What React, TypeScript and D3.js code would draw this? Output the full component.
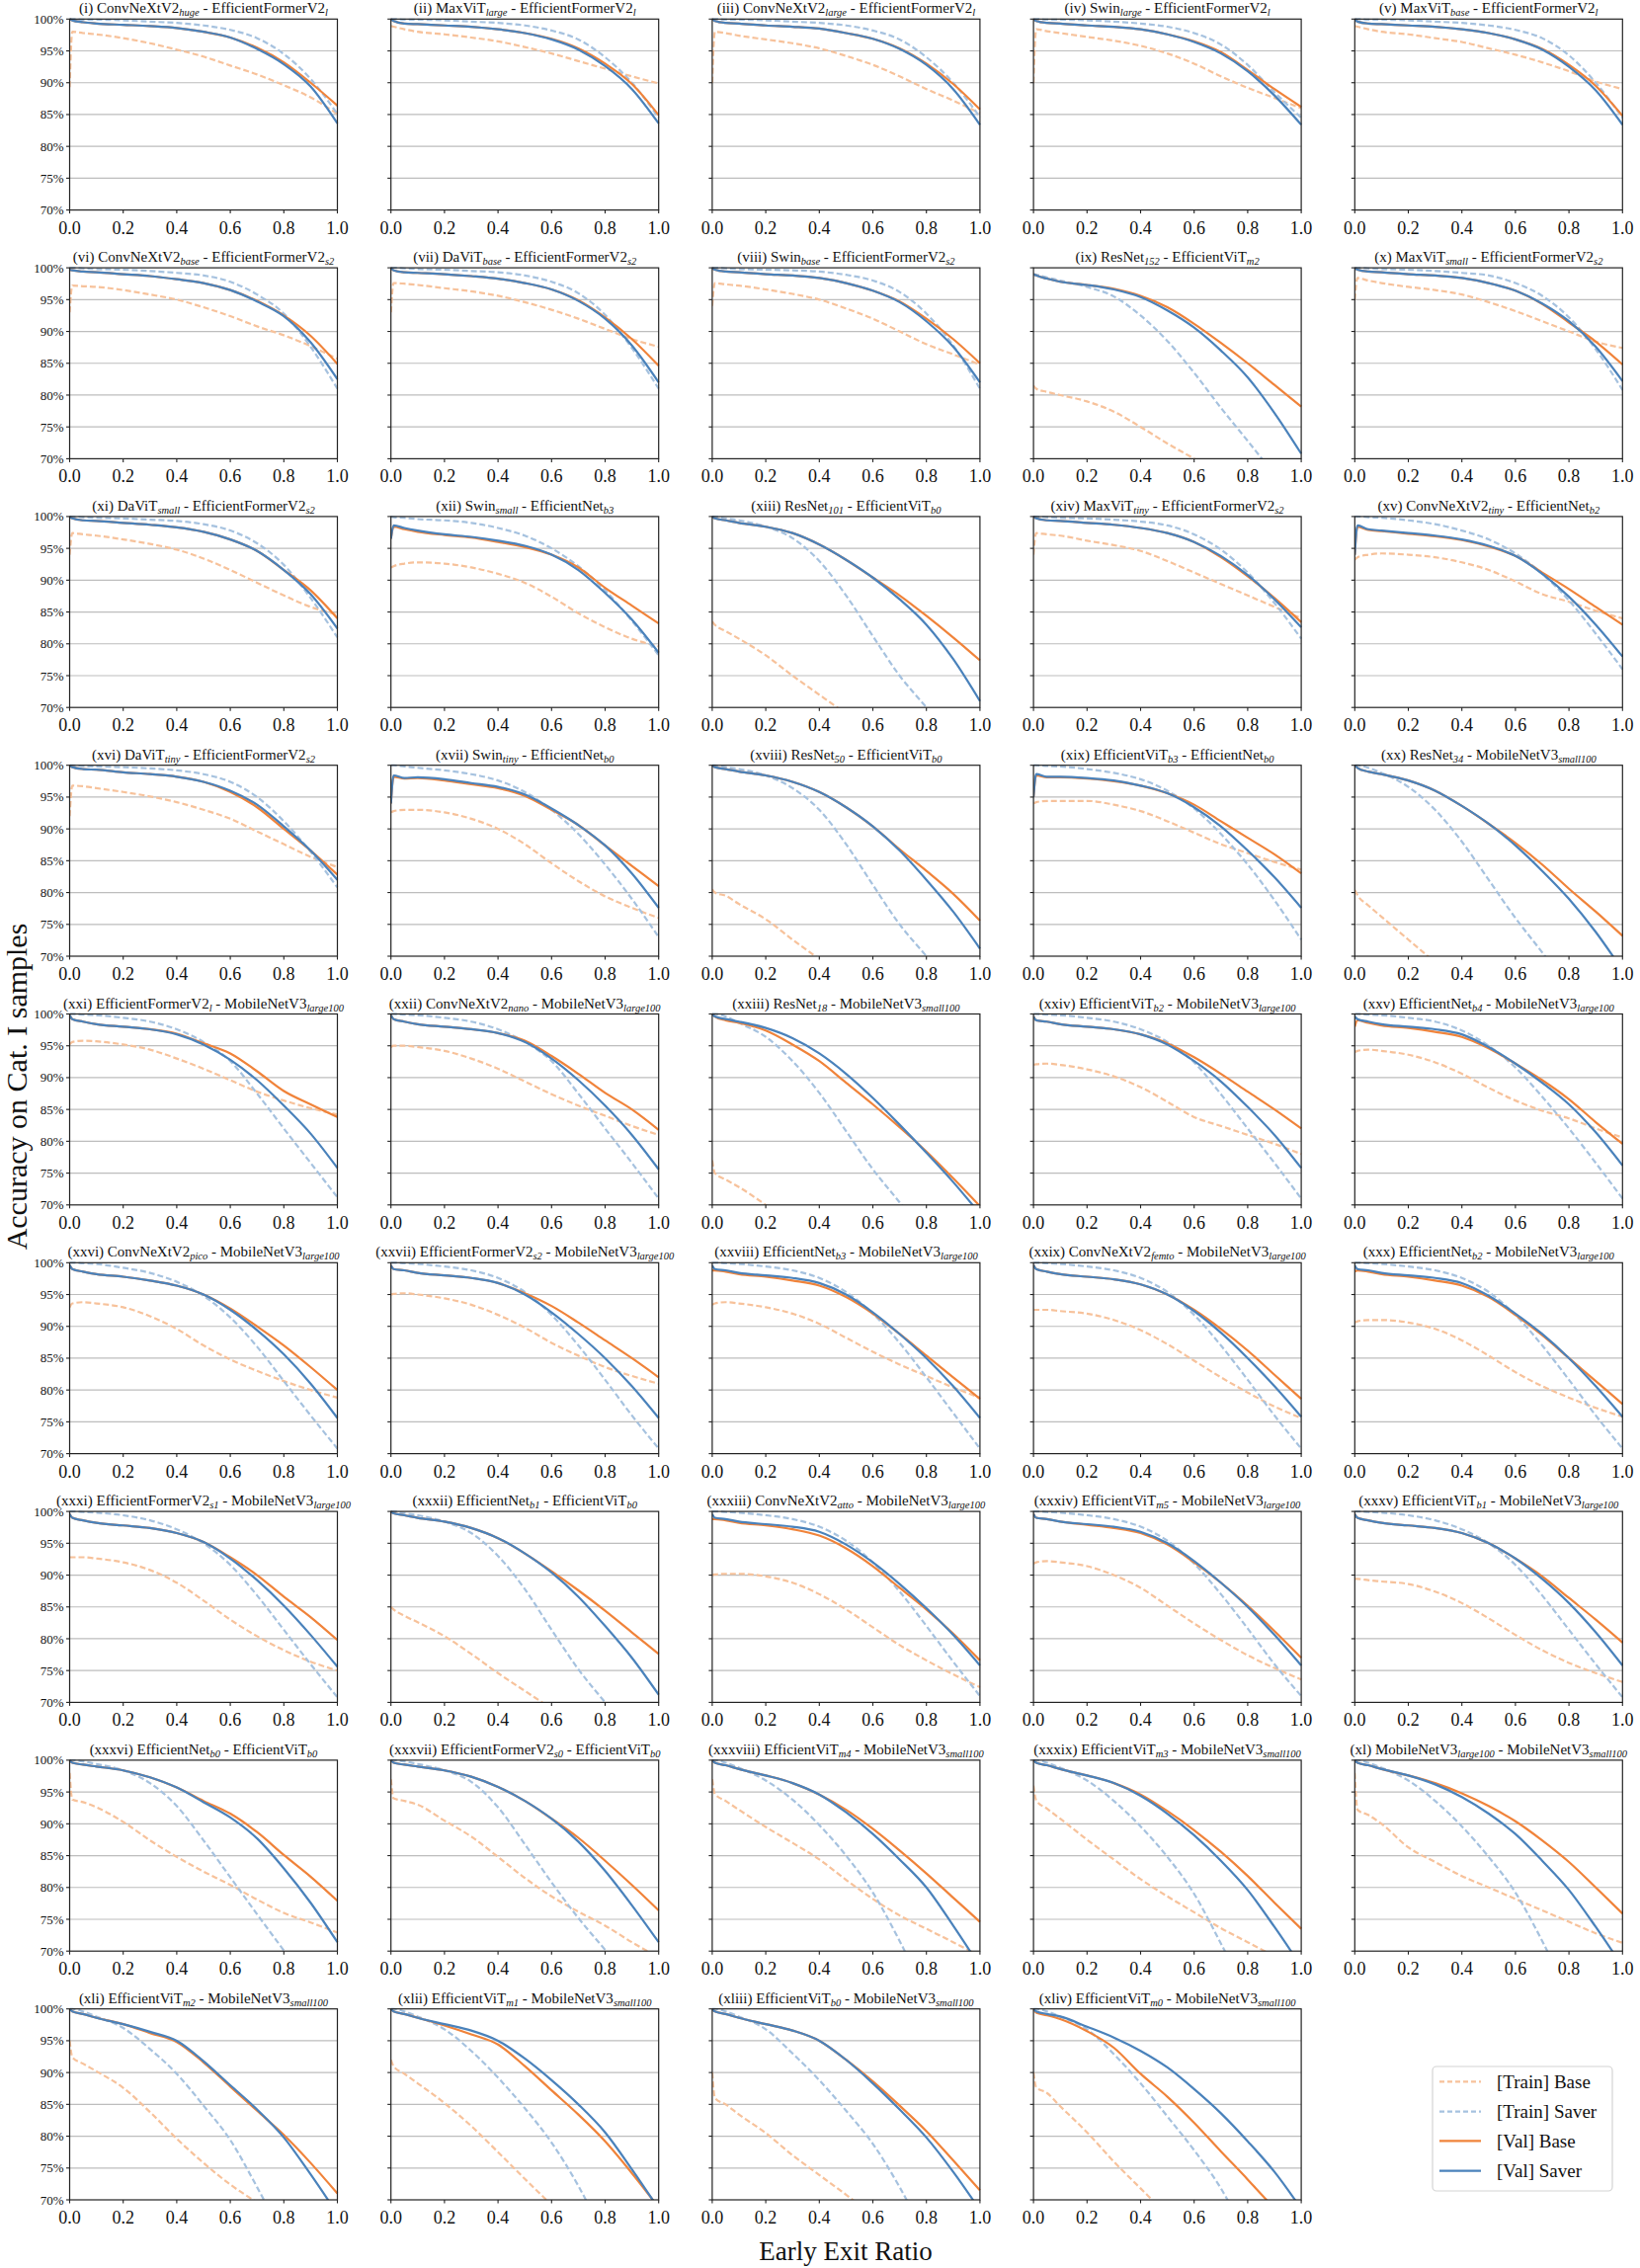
import React from 'react';
import * as d3 from 'd3';

// x positions (early exit ratio) at which values were read
const X_POINTS = [0, 0.01, 0.05, 0.1, 0.2, 0.3, 0.4, 0.5, 0.6, 0.7, 0.8, 0.9, 1.0];
const Y_TICKS = [70, 75, 80, 85, 90, 95, 100];
const X_TICKS = [0, 0.2, 0.4, 0.6, 0.8, 1.0];

const numerals = ['i','ii','iii','iv','v','vi','vii','viii','ix','x','xi','xii','xiii','xiv','xv','xvi','xvii','xviii','xix','xx','xxi','xxii','xxiii','xxiv','xxv','xxvi','xxvii','xxviii','xxix','xxx','xxxi','xxxii','xxxiii','xxxiv','xxxv','xxxvi','xxxvii','xxxviii','xxxix','xl','xli','xlii','xliii','xliv'];

const modelA: [string, string][] = [
  ['ConvNeXtV2','huge'],['MaxViT','large'],['ConvNeXtV2','large'],['Swin','large'],['MaxViT','base'],
  ['ConvNeXtV2','base'],['DaViT','base'],['Swin','base'],['ResNet','152'],['MaxViT','small'],
  ['DaViT','small'],['Swin','small'],['ResNet','101'],['MaxViT','tiny'],['ConvNeXtV2','tiny'],
  ['DaViT','tiny'],['Swin','tiny'],['ResNet','50'],['EfficientViT','b3'],['ResNet','34'],
  ['EfficientFormerV2','l'],['ConvNeXtV2','nano'],['ResNet','18'],['EfficientViT','b2'],['EfficientNet','b4'],
  ['ConvNeXtV2','pico'],['EfficientFormerV2','s2'],['EfficientNet','b3'],['ConvNeXtV2','femto'],['EfficientNet','b2'],
  ['EfficientFormerV2','s1'],['EfficientNet','b1'],['ConvNeXtV2','atto'],['EfficientViT','m5'],['EfficientViT','b1'],
  ['EfficientNet','b0'],['EfficientFormerV2','s0'],['EfficientViT','m4'],['EfficientViT','m3'],['MobileNetV3','large100'],
  ['EfficientViT','m2'],['EfficientViT','m1'],['EfficientViT','b0'],['EfficientViT','m0'],
];

const modelB: [string, string][] = [
  ['EfficientFormerV2','l'],['EfficientFormerV2','l'],['EfficientFormerV2','l'],['EfficientFormerV2','l'],['EfficientFormerV2','l'],
  ['EfficientFormerV2','s2'],['EfficientFormerV2','s2'],['EfficientFormerV2','s2'],['EfficientViT','m2'],['EfficientFormerV2','s2'],
  ['EfficientFormerV2','s2'],['EfficientNet','b3'],['EfficientViT','b0'],['EfficientFormerV2','s2'],['EfficientNet','b2'],
  ['EfficientFormerV2','s2'],['EfficientNet','b0'],['EfficientViT','b0'],['EfficientNet','b0'],['MobileNetV3','small100'],
  ['MobileNetV3','large100'],['MobileNetV3','large100'],['MobileNetV3','small100'],['MobileNetV3','large100'],['MobileNetV3','large100'],
  ['MobileNetV3','large100'],['MobileNetV3','large100'],['MobileNetV3','large100'],['MobileNetV3','large100'],['MobileNetV3','large100'],
  ['MobileNetV3','large100'],['EfficientViT','b0'],['MobileNetV3','large100'],['MobileNetV3','large100'],['MobileNetV3','large100'],
  ['EfficientViT','b0'],['EfficientViT','b0'],['MobileNetV3','small100'],['MobileNetV3','small100'],['MobileNetV3','small100'],
  ['MobileNetV3','small100'],['MobileNetV3','small100'],['MobileNetV3','small100'],['MobileNetV3','small100'],
];

// [Train] Base
const trainBase: number[][] = [
  [89.3, 98.0, 97.8, 97.6, 97.0, 96.2, 95.2, 94.1, 92.7, 91.3, 89.6, 87.7, 85.1],
  [98.9, 98.8, 98.4, 98.0, 97.6, 97.1, 96.5, 95.6, 94.6, 93.4, 92.2, 91.0, 89.9],
  [90.0, 98.0, 97.8, 97.4, 96.8, 96.2, 95.4, 94.2, 92.8, 91.0, 89.0, 87.2, 85.2],
  [90.0, 98.4, 98.1, 97.8, 97.2, 96.6, 95.8, 94.6, 93.0, 91.0, 89.2, 87.6, 86.0],
  [98.9, 98.8, 98.4, 98.0, 97.6, 97.0, 96.4, 95.4, 94.4, 93.2, 91.8, 90.2, 89.0],
  [93.0, 97.2, 97.1, 97.0, 96.5, 95.8, 95.0, 93.8, 92.4, 90.8, 89.4, 87.7, 85.7],
  [93.0, 97.6, 97.5, 97.3, 96.8, 96.3, 95.6, 94.6, 93.4, 92.0, 90.4, 88.8, 87.6],
  [94.0, 97.6, 97.4, 97.2, 96.6, 95.9, 95.0, 93.6, 92.0, 90.0, 88.0, 86.4, 84.8],
  [81.5, 81.0, 80.5, 80.0, 79.0, 77.4, 75.0, 72.4, 70.0, 67.5, 65.0, 62.0, 60.0],
  [95.0, 98.4, 98.0, 97.6, 97.0, 96.5, 95.8, 94.6, 93.2, 91.6, 90.0, 88.4, 87.4],
  [94.0, 97.4, 97.2, 97.0, 96.4, 95.7, 94.8, 93.4, 91.6, 89.6, 87.6, 85.8, 84.6],
  [92.0, 92.2, 92.6, 92.8, 92.6, 92.0, 91.0, 89.6, 87.4, 84.8, 82.6, 80.8, 79.6],
  [83.5, 83.0, 82.0, 80.8, 78.2, 75.0, 72.0, 69.0, 66.0, 63.0, 60.0, 57.0, 54.0],
  [94.0, 97.4, 97.2, 97.0, 96.2, 95.5, 94.6, 93.0, 91.2, 89.4, 87.6, 85.8, 84.0],
  [93.2, 93.6, 94.0, 94.2, 94.0, 93.6, 92.8, 91.6, 89.8, 87.8, 86.6, 85.2, 84.0],
  [92.0, 96.8, 96.7, 96.4, 95.8, 95.1, 94.2, 93.0, 91.6, 89.6, 87.6, 85.6, 84.0],
  [92.6, 92.8, 93.0, 93.0, 92.6, 91.6, 90.0, 87.6, 84.6, 81.8, 79.4, 77.6, 76.0],
  [80.5, 80.0, 79.5, 78.2, 75.8, 72.6, 69.5, 66.0, 63.0, 60.0, 57.0, 54.0, 51.0],
  [94.0, 94.2, 94.4, 94.4, 94.4, 93.8, 92.8, 91.2, 89.4, 87.6, 86.2, 84.8, 83.6],
  [80.4, 79.6, 78.0, 76.2, 72.6, 69.0, 65.0, 61.0, 57.0, 53.0, 49.0, 45.0, 41.0],
  [95.2, 95.6, 95.8, 95.7, 95.2, 94.4, 93.0, 91.4, 89.6, 87.8, 86.4, 85.2, 84.2],
  [94.8, 95.0, 95.0, 94.8, 94.2, 93.0, 91.4, 89.4, 87.4, 85.6, 84.0, 82.4, 81.0],
  [77.0, 75.0, 74.0, 72.8, 70.0, 67.0, 64.0, 61.0, 58.0, 55.0, 52.0, 49.0, 46.0],
  [92.0, 92.1, 92.2, 92.0, 91.3, 90.2, 88.5, 86.2, 83.8, 82.4, 81.0, 79.6, 78.0],
  [94.0, 94.2, 94.4, 94.2, 93.6, 92.4, 90.6, 88.4, 86.4, 84.8, 83.6, 82.0, 80.6],
  [93.0, 93.6, 93.8, 93.6, 93.0, 91.6, 89.6, 87.0, 84.8, 83.0, 81.4, 80.0, 78.8],
  [95.0, 95.1, 95.2, 95.0, 94.4, 93.4, 91.8, 89.8, 87.4, 85.4, 83.6, 82.2, 81.0],
  [93.4, 93.6, 93.8, 93.6, 93.0, 92.0, 90.4, 88.2, 86.0, 84.0, 82.2, 80.4, 78.8],
  [92.6, 92.6, 92.6, 92.4, 92.0, 91.0, 89.4, 87.2, 84.6, 82.0, 79.6, 77.4, 75.6],
  [90.6, 90.8, 91.0, 91.0, 90.6, 89.6, 87.8, 85.4, 82.8, 80.6, 78.8, 77.2, 75.8],
  [92.8, 92.8, 92.8, 92.6, 92.0, 90.8, 88.8, 86.0, 83.0, 80.4, 78.2, 76.4, 75.0],
  [85.0, 84.6, 83.6, 82.6, 80.4, 77.6, 74.6, 71.8, 69.0, 66.0, 63.0, 60.0, 57.0],
  [90.0, 90.1, 90.2, 90.2, 89.8, 88.8, 87.0, 84.6, 81.8, 79.0, 76.6, 74.4, 72.4],
  [91.8, 92.0, 92.2, 92.0, 91.4, 90.0, 88.0, 85.2, 82.4, 79.8, 77.4, 75.4, 73.6],
  [89.4, 89.4, 89.2, 89.0, 88.6, 87.4, 85.6, 83.2, 80.6, 78.2, 76.2, 74.6, 73.2],
  [98.0, 93.8, 93.4, 92.6, 90.3, 87.4, 84.8, 82.5, 80.4, 78.1, 76.0, 74.5, 72.9],
  [97.0, 94.0, 93.6, 93.0, 90.5, 88.0, 84.8, 81.5, 78.6, 76.2, 74.0, 71.4, 69.0],
  [97.0, 94.7, 93.6, 92.2, 89.5, 87.0, 84.4, 81.2, 78.2, 75.6, 73.5, 71.4, 69.2],
  [96.0, 93.7, 92.4, 90.8, 87.5, 84.4, 81.3, 78.6, 76.1, 73.6, 71.4, 69.2, 67.0],
  [98.0, 92.2, 91.4, 90.0, 86.3, 84.0, 81.8, 80.0, 78.2, 76.4, 74.6, 72.8, 71.3],
  [95.0, 92.4, 91.4, 90.2, 87.6, 83.8, 79.6, 75.8, 72.4, 69.6, 67.0, 64.0, 61.0],
  [92.0, 91.0, 89.8, 88.3, 85.2, 81.6, 77.5, 73.3, 69.2, 65.0, 61.0, 57.0, 53.0],
  [90.0, 86.0, 85.0, 83.4, 80.5, 77.0, 73.9, 70.8, 67.5, 64.0, 61.0, 58.0, 55.0],
  [90.0, 87.7, 86.8, 84.7, 80.6, 76.0, 71.8, 67.6, 63.4, 59.0, 55.0, 51.0, 47.0],
];

// [Train] Saver
const trainSaver: number[][] = [
  [100, 100, 99.9, 99.9, 99.8, 99.6, 99.4, 99.0, 98.3, 97.0, 94.5, 90.6, 85.1],
  [100, 100, 99.9, 99.9, 99.8, 99.6, 99.4, 99.0, 98.2, 96.8, 94.0, 90.0, 84.5],
  [100, 100, 99.9, 99.9, 99.8, 99.6, 99.4, 99.0, 98.2, 96.8, 94.0, 90.0, 84.6],
  [100, 100, 99.9, 99.9, 99.8, 99.6, 99.3, 98.8, 97.8, 96.0, 92.8, 88.5, 84.5],
  [100, 100, 99.9, 99.9, 99.8, 99.6, 99.4, 99.0, 98.3, 97.0, 94.3, 90.0, 84.5],
  [100, 100, 99.9, 99.8, 99.7, 99.5, 99.2, 98.8, 97.8, 95.8, 92.8, 87.6, 81.0],
  [100, 100, 99.9, 99.8, 99.7, 99.5, 99.3, 98.8, 97.8, 96.0, 92.6, 87.4, 81.0],
  [100, 100, 99.9, 99.8, 99.7, 99.6, 99.4, 98.9, 98.0, 96.2, 92.8, 87.8, 81.0],
  [99.0, 98.9, 98.5, 98.0, 97.0, 95.5, 92.5, 88.5, 83.5, 78.0, 72.8, 67.5, 62.0],
  [100, 100, 99.9, 99.8, 99.7, 99.5, 99.2, 98.8, 97.6, 95.6, 92.2, 87.2, 80.8],
  [100, 100, 99.9, 99.8, 99.7, 99.5, 99.3, 98.8, 97.8, 95.8, 92.4, 87.2, 81.0],
  [100, 99.9, 99.8, 99.6, 99.4, 99.0, 98.2, 97.0, 95.0, 92.2, 88.4, 83.6, 78.2],
  [100, 100, 99.7, 99.4, 98.4, 96.6, 93.0, 87.6, 81.2, 75.0, 70.0, 65.0, 60.0],
  [100, 100, 99.9, 99.8, 99.7, 99.5, 99.2, 98.6, 97.2, 94.8, 91.2, 86.4, 80.8],
  [100, 100, 99.9, 99.8, 99.4, 98.8, 97.8, 96.4, 94.2, 91.0, 86.8, 81.6, 76.0],
  [100, 100, 99.9, 99.8, 99.7, 99.5, 99.2, 98.6, 97.4, 95.0, 91.2, 86.4, 80.8],
  [100, 100, 99.8, 99.6, 99.2, 98.6, 97.6, 95.8, 93.0, 89.2, 84.4, 79.0, 73.0],
  [100, 100, 99.7, 99.4, 98.4, 96.4, 93.0, 87.6, 81.2, 75.0, 70.0, 65.0, 60.0],
  [100, 100, 99.9, 99.8, 99.4, 98.8, 97.8, 96.0, 93.2, 89.2, 84.4, 78.8, 72.6],
  [100, 100, 99.6, 98.8, 96.6, 93.0, 88.0, 82.0, 76.0, 70.6, 65.0, 60.0, 55.0],
  [100, 100, 99.9, 99.8, 99.4, 98.8, 97.6, 95.6, 92.6, 87.5, 82.0, 76.6, 71.2],
  [100, 100, 99.9, 99.8, 99.4, 98.8, 97.6, 95.6, 92.6, 87.5, 82.0, 76.6, 71.0],
  [100, 100, 99.6, 98.6, 96.4, 92.6, 87.6, 81.6, 75.6, 70.4, 65.0, 60.0, 55.0],
  [100, 100, 99.9, 99.8, 99.4, 98.8, 97.6, 95.6, 92.4, 87.4, 82.0, 76.6, 71.0],
  [100, 100, 99.9, 99.8, 99.4, 98.8, 97.4, 95.0, 91.6, 87.0, 82.0, 76.6, 71.0],
  [100, 100, 99.9, 99.8, 99.2, 98.4, 97.0, 94.8, 91.4, 86.8, 81.4, 76.0, 70.8],
  [100, 100, 99.9, 99.8, 99.4, 98.8, 97.6, 95.4, 91.8, 87.0, 81.6, 76.0, 70.8],
  [100, 100, 99.9, 99.8, 99.4, 98.8, 97.6, 95.4, 92.0, 87.4, 82.0, 76.4, 70.8],
  [100, 100, 99.9, 99.8, 99.4, 98.8, 97.6, 95.4, 91.8, 87.0, 81.6, 76.0, 70.8],
  [100, 100, 99.9, 99.8, 99.4, 98.8, 97.6, 95.4, 91.8, 87.0, 81.6, 76.0, 70.8],
  [100, 100, 99.9, 99.8, 99.4, 98.6, 97.2, 95.0, 91.6, 86.8, 81.4, 76.0, 70.8],
  [100, 100, 99.7, 99.4, 98.4, 96.6, 93.0, 87.8, 81.4, 75.2, 70.0, 65.0, 60.0],
  [100, 100, 99.9, 99.8, 99.4, 98.8, 97.6, 95.4, 92.0, 87.4, 82.0, 76.4, 71.0],
  [100, 100, 99.9, 99.8, 99.4, 98.8, 97.6, 95.4, 91.8, 87.0, 81.6, 76.0, 71.0],
  [100, 100, 99.9, 99.8, 99.4, 98.6, 97.2, 95.0, 91.6, 86.8, 81.4, 76.0, 70.8],
  [100, 100, 99.8, 99.4, 98.4, 96.4, 92.8, 87.4, 81.6, 75.8, 70.1, 64.5, 59.0],
  [100, 100, 99.8, 99.4, 98.4, 96.6, 92.6, 86.8, 80.8, 75.2, 70.2, 65.0, 60.0],
  [100, 100, 99.6, 98.8, 96.8, 93.8, 89.8, 85.0, 79.2, 71.6, 63.0, 55.0, 47.0],
  [100, 100, 99.6, 98.8, 96.8, 93.6, 89.6, 84.8, 79.0, 71.2, 63.0, 55.0, 47.0],
  [100, 100, 99.6, 98.8, 96.8, 93.6, 89.6, 84.8, 79.2, 71.6, 63.0, 55.0, 47.0],
  [100, 100, 99.6, 98.8, 97.0, 93.7, 89.8, 84.8, 79.4, 72.0, 64.0, 56.0, 48.0],
  [100, 100, 99.6, 98.8, 96.8, 93.4, 89.2, 84.4, 79.0, 72.2, 64.0, 56.0, 48.0],
  [100, 100, 99.6, 98.8, 96.8, 93.0, 88.8, 84.0, 78.8, 72.0, 64.0, 56.0, 48.0],
  [100, 100, 99.6, 98.8, 96.8, 92.9, 88.3, 83.1, 77.8, 71.8, 64.0, 56.0, 48.0],
];

// [Val] Base
const valBase: number[][] = [
  [100, 99.8, 99.5, 99.3, 99.1, 98.9, 98.6, 98.0, 97.1, 95.5, 93.2, 90.0, 86.4],
  [100, 99.7, 99.3, 99.2, 99.0, 98.8, 98.4, 97.8, 96.9, 95.4, 93.0, 89.8, 84.9],
  [100, 99.7, 99.4, 99.3, 99.0, 98.8, 98.5, 97.8, 96.9, 95.4, 93.0, 89.8, 85.8],
  [100, 99.7, 99.4, 99.3, 99.0, 98.8, 98.4, 97.6, 96.5, 94.8, 92.0, 89.0, 86.2],
  [100, 99.6, 99.3, 99.2, 99.0, 98.8, 98.4, 97.8, 96.8, 95.3, 92.8, 89.5, 84.8],
  [99.7, 99.6, 99.4, 99.3, 99.0, 98.7, 98.2, 97.6, 96.5, 94.8, 92.5, 89.3, 84.9],
  [100, 99.6, 99.3, 99.2, 99.0, 98.7, 98.3, 97.6, 96.6, 94.9, 92.2, 88.8, 84.6],
  [100, 99.7, 99.4, 99.3, 99.0, 98.8, 98.4, 97.6, 96.4, 94.7, 92.0, 88.8, 85.0],
  [99.0, 98.8, 98.3, 97.8, 97.3, 96.7, 95.6, 93.8, 91.2, 88.2, 85.0, 81.6, 78.2],
  [100, 99.7, 99.4, 99.3, 99.0, 98.8, 98.4, 97.6, 96.4, 94.3, 91.4, 88.4, 84.8],
  [100, 99.7, 99.4, 99.3, 99.0, 98.7, 98.3, 97.6, 96.4, 94.6, 91.6, 88.4, 84.0],
  [96.5, 98.4, 98.0, 97.6, 97.1, 96.7, 96.0, 95.2, 94.0, 92.0, 88.8, 86.0, 83.2],
  [100, 99.7, 99.4, 99.0, 98.4, 97.4, 95.6, 93.2, 90.4, 87.6, 84.4, 81.0, 77.4],
  [100, 99.7, 99.4, 99.3, 99.0, 98.7, 98.2, 97.4, 96.0, 93.6, 90.6, 87.2, 83.4],
  [94.0, 98.4, 97.9, 97.7, 97.3, 96.9, 96.3, 95.3, 93.8, 91.2, 88.6, 85.8, 83.0],
  [100, 99.7, 99.4, 99.3, 98.9, 98.6, 98.2, 97.4, 95.8, 93.4, 90.0, 86.6, 82.8],
  [94.0, 98.2, 97.9, 98.0, 97.6, 97.0, 96.4, 95.2, 93.0, 90.6, 87.4, 84.2, 81.0],
  [100, 99.7, 99.4, 99.0, 98.4, 97.4, 95.8, 93.4, 90.4, 86.8, 83.4, 79.8, 75.6],
  [95.0, 98.4, 98.1, 98.1, 97.9, 97.5, 96.8, 95.6, 93.8, 91.2, 88.6, 86.0, 83.0],
  [100, 99.6, 99.0, 98.6, 97.6, 96.0, 93.6, 90.8, 87.8, 84.4, 80.6, 77.0, 73.2],
  [99.8, 99.2, 98.8, 98.4, 98.0, 97.6, 96.9, 95.4, 93.8, 91.0, 87.9, 85.8, 83.8],
  [99.8, 99.2, 98.8, 98.4, 98.0, 97.6, 97.0, 95.8, 93.4, 90.6, 87.6, 85.0, 81.8],
  [100, 99.6, 99.0, 98.6, 97.4, 95.2, 92.6, 89.2, 85.8, 82.2, 78.4, 74.2, 69.8],
  [99.6, 99.0, 98.8, 98.4, 98.0, 97.6, 96.8, 95.4, 93.2, 90.6, 87.8, 85.0, 82.0],
  [98.0, 99.0, 98.6, 98.2, 97.8, 97.2, 96.4, 94.6, 92.2, 89.6, 86.6, 83.0, 79.6],
  [99.6, 99.0, 98.6, 98.2, 97.8, 97.2, 96.4, 95.0, 92.8, 90.0, 87.0, 83.6, 80.0],
  [99.6, 99.0, 98.8, 98.4, 98.0, 97.6, 96.8, 95.2, 93.2, 90.6, 87.8, 85.0, 82.0],
  [98.8, 98.8, 98.6, 98.2, 97.8, 97.2, 96.4, 94.6, 92.0, 88.8, 85.4, 82.0, 78.6],
  [99.6, 99.0, 98.6, 98.2, 97.8, 97.4, 96.6, 95.0, 92.6, 89.6, 86.2, 82.4, 78.6],
  [98.6, 98.8, 98.6, 98.2, 97.8, 97.2, 96.4, 94.6, 91.8, 88.6, 85.0, 81.4, 77.8],
  [99.6, 99.0, 98.6, 98.2, 97.8, 97.4, 96.6, 95.2, 92.8, 90.0, 86.6, 83.4, 79.8],
  [100, 99.7, 99.4, 99.0, 98.4, 97.4, 95.8, 93.4, 90.6, 87.6, 84.4, 81.0, 77.6],
  [98.8, 98.8, 98.6, 98.2, 97.8, 97.2, 96.2, 94.2, 91.4, 88.0, 84.6, 80.8, 76.6],
  [99.6, 99.0, 98.8, 98.4, 97.9, 97.4, 96.6, 94.8, 92.0, 88.8, 85.2, 81.2, 77.0],
  [99.6, 99.0, 98.6, 98.2, 97.8, 97.4, 96.6, 95.0, 92.6, 89.8, 86.4, 83.0, 79.4],
  [100, 99.6, 99.3, 99.0, 98.4, 97.3, 95.7, 93.6, 91.6, 88.7, 85.1, 81.7, 77.9],
  [100, 99.6, 99.3, 99.0, 98.4, 97.4, 95.8, 93.6, 90.8, 87.8, 84.2, 80.4, 76.4],
  [100, 99.6, 99.2, 98.6, 97.6, 96.4, 94.6, 92.2, 89.2, 85.8, 82.2, 78.4, 74.6],
  [100, 99.6, 99.2, 98.6, 97.6, 96.4, 94.6, 92.0, 89.0, 85.6, 81.8, 77.6, 73.5],
  [100, 99.6, 99.2, 98.6, 97.6, 96.4, 94.8, 92.8, 90.4, 87.4, 84.0, 80.0, 75.9],
  [100, 99.6, 99.2, 98.6, 97.6, 96.2, 94.8, 91.6, 87.8, 84.0, 80.2, 75.8, 71.0],
  [100, 99.6, 99.2, 98.6, 97.4, 96.0, 94.4, 91.0, 87.2, 83.4, 79.2, 74.2, 68.8],
  [100, 99.6, 99.2, 98.6, 97.6, 96.6, 95.0, 92.0, 88.6, 84.8, 80.8, 76.2, 71.5],
  [100, 99.4, 99.0, 98.4, 96.5, 93.9, 89.8, 86.2, 82.1, 77.6, 73.2, 68.6, 64.0],
];

// [Val] Saver
const valSaver: number[][] = [
  [100, 99.8, 99.5, 99.3, 99.1, 98.9, 98.6, 98.0, 97.1, 95.3, 92.9, 89.4, 83.6],
  [100, 99.7, 99.3, 99.2, 99.0, 98.8, 98.4, 97.8, 96.8, 95.2, 92.6, 89.0, 83.6],
  [100, 99.7, 99.4, 99.3, 99.0, 98.8, 98.5, 97.8, 96.9, 95.3, 92.8, 89.0, 83.4],
  [100, 99.7, 99.4, 99.3, 99.0, 98.8, 98.4, 97.6, 96.4, 94.6, 91.8, 88.0, 83.4],
  [100, 99.6, 99.3, 99.2, 99.0, 98.8, 98.4, 97.8, 96.8, 95.2, 92.5, 88.8, 83.4],
  [99.7, 99.6, 99.4, 99.3, 99.0, 98.7, 98.2, 97.6, 96.5, 94.7, 92.4, 88.3, 82.5],
  [100, 99.6, 99.3, 99.2, 99.0, 98.7, 98.3, 97.6, 96.6, 94.8, 92.0, 87.8, 82.0],
  [100, 99.7, 99.4, 99.3, 99.0, 98.8, 98.4, 97.6, 96.4, 94.6, 91.6, 87.6, 82.0],
  [99.0, 98.8, 98.3, 97.8, 97.3, 96.6, 95.4, 93.3, 90.6, 87.0, 82.8, 77.2, 70.8],
  [100, 99.7, 99.4, 99.3, 99.0, 98.8, 98.4, 97.6, 96.4, 94.4, 91.6, 87.6, 82.2],
  [100, 99.7, 99.4, 99.3, 99.0, 98.7, 98.3, 97.6, 96.4, 94.6, 91.6, 87.8, 82.4],
  [96.5, 98.6, 98.2, 97.8, 97.2, 96.8, 96.2, 95.4, 94.0, 91.6, 88.0, 83.8, 78.6],
  [100, 99.7, 99.4, 99.0, 98.4, 97.4, 95.6, 93.2, 90.4, 87.0, 83.0, 77.6, 71.0],
  [100, 99.7, 99.4, 99.3, 99.0, 98.7, 98.2, 97.4, 96.0, 93.8, 90.8, 87.0, 82.6],
  [94.0, 98.6, 98.0, 97.8, 97.4, 97.0, 96.4, 95.4, 93.8, 91.0, 87.4, 83.0, 78.0],
  [100, 99.7, 99.4, 99.3, 98.9, 98.6, 98.2, 97.4, 96.0, 93.8, 90.4, 86.6, 82.0],
  [94.0, 98.4, 98.0, 98.1, 97.8, 97.2, 96.6, 95.4, 93.2, 90.6, 87.4, 83.0, 77.6],
  [100, 99.7, 99.4, 99.0, 98.4, 97.4, 95.8, 93.4, 90.4, 86.6, 82.0, 77.0, 71.2],
  [95.0, 98.6, 98.2, 98.2, 98.0, 97.6, 96.8, 95.6, 93.4, 90.4, 86.6, 82.4, 77.6],
  [100, 99.6, 99.0, 98.6, 97.6, 96.0, 93.6, 90.8, 87.4, 83.4, 79.0, 73.8, 67.8],
  [99.8, 99.2, 98.8, 98.4, 98.0, 97.6, 96.8, 95.2, 92.8, 89.6, 85.6, 81.2, 75.8],
  [99.8, 99.2, 98.8, 98.4, 98.0, 97.6, 97.0, 95.6, 93.0, 89.6, 85.6, 81.0, 75.6],
  [100, 99.6, 99.2, 98.8, 97.8, 96.2, 93.8, 90.6, 86.8, 82.6, 78.2, 73.6, 68.6],
  [99.6, 99.0, 98.8, 98.4, 98.0, 97.6, 96.8, 95.2, 92.6, 89.4, 85.4, 81.0, 75.8],
  [99.6, 99.2, 98.8, 98.4, 98.0, 97.6, 96.8, 94.8, 92.2, 89.2, 85.8, 81.4, 76.2],
  [99.6, 99.0, 98.6, 98.2, 97.8, 97.2, 96.4, 95.0, 92.6, 89.4, 85.6, 81.0, 75.6],
  [99.6, 99.0, 98.8, 98.4, 98.0, 97.6, 96.8, 95.0, 92.2, 88.8, 85.0, 80.6, 75.6],
  [99.6, 99.0, 98.8, 98.4, 98.0, 97.6, 96.8, 95.0, 92.2, 88.8, 85.0, 80.6, 75.6],
  [99.6, 99.0, 98.6, 98.2, 97.8, 97.4, 96.6, 95.0, 92.4, 89.0, 85.0, 80.6, 75.8],
  [99.6, 99.0, 98.8, 98.4, 98.0, 97.6, 96.8, 94.8, 92.0, 88.8, 85.0, 80.6, 75.8],
  [99.6, 99.0, 98.6, 98.2, 97.8, 97.4, 96.6, 95.2, 92.6, 89.2, 85.2, 80.6, 75.6],
  [100, 99.7, 99.4, 99.0, 98.4, 97.4, 95.8, 93.4, 90.4, 86.6, 82.0, 77.0, 71.2],
  [99.6, 99.0, 98.8, 98.4, 98.0, 97.6, 96.8, 94.8, 92.0, 88.6, 84.8, 80.6, 75.8],
  [99.6, 99.0, 98.8, 98.4, 98.0, 97.6, 96.8, 95.0, 92.2, 88.8, 85.0, 80.6, 75.8],
  [99.6, 99.0, 98.6, 98.2, 97.8, 97.4, 96.6, 95.0, 92.6, 89.4, 85.6, 81.0, 75.8],
  [100, 99.6, 99.3, 99.0, 98.4, 97.3, 95.7, 93.4, 91.0, 87.7, 83.0, 77.6, 71.4],
  [100, 99.6, 99.3, 99.0, 98.4, 97.4, 95.8, 93.6, 90.8, 87.2, 82.6, 77.2, 71.4],
  [100, 99.6, 99.2, 98.6, 97.6, 96.4, 94.6, 91.8, 88.4, 84.4, 80.0, 74.0, 67.6],
  [100, 99.6, 99.2, 98.6, 97.6, 96.4, 94.4, 91.6, 88.2, 84.2, 79.6, 73.8, 67.6],
  [100, 99.6, 99.2, 98.6, 97.6, 96.2, 94.2, 91.6, 88.4, 84.2, 79.6, 73.8, 67.6],
  [100, 99.6, 99.2, 98.6, 97.6, 96.4, 95.0, 91.8, 88.0, 84.2, 79.8, 74.0, 67.8],
  [100, 99.6, 99.2, 98.6, 97.6, 96.6, 95.0, 92.2, 88.8, 85.0, 80.6, 74.8, 68.6],
  [100, 99.6, 99.2, 98.6, 97.6, 96.6, 95.0, 92.0, 88.3, 84.2, 79.8, 74.4, 68.4],
  [100, 99.6, 99.2, 98.8, 97.2, 95.5, 93.4, 90.8, 87.4, 83.6, 79.2, 74.4, 68.6],
];

const legendLabels = ['[Train] Base', '[Train] Saver', '[Val] Base', '[Val] Saver'];

const COLORS = {
  trainBase: '#f7c29b',
  trainSaver: '#a6c2df',
  valBase: '#f0833a',
  valSaver: '#4a82bb',
};

const FONT = '"Liberation Serif", "DejaVu Serif", serif';
const W = 1660;
const H = 2296;
const PW = 271;
const PH = 193.3;
const LEFT0 = 70.5;
const COLSTEP = 325.2;
const TOP0 = 19.3;
const ROWSTEP = 251.8;
const NCOLS = 5;

const xScale = d3.scaleLinear().domain([0, 1]).range([0, PW]);
const yScale = d3.scaleLinear().domain([70, 100]).range([PH, 0]);
const lineGen = d3
  .line<number>()
  .x((_, i) => xScale(X_POINTS[i]))
  .y((d) => yScale(d))
  .curve(d3.curveMonotoneX);

function Title({ i }: { i: number }) {
  const [a, as] = modelA[i];
  const [b, bs] = modelB[i];
  return (
    <text x={PW / 2} y={-6} textAnchor="middle" fontFamily={FONT} fontSize={15} fill="#111">
      <tspan>{`(${numerals[i]}) ${a}`}</tspan>
      <tspan fontSize={10.5} fontStyle="italic" dy={3}>{as}</tspan>
      <tspan dy={-3}>{` - ${b}`}</tspan>
      <tspan fontSize={10.5} fontStyle="italic" dy={3}>{bs}</tspan>
    </text>
  );
}

function Panel({ i }: { i: number }) {
  const col = i % NCOLS;
  const row = Math.floor(i / NCOLS);
  const tx = LEFT0 + col * COLSTEP;
  const ty = TOP0 + row * ROWSTEP;
  const series = [
    { d: trainBase[i], c: COLORS.trainBase, dash: '6,3' },
    { d: trainSaver[i], c: COLORS.trainSaver, dash: '6,3' },
    { d: valBase[i], c: COLORS.valBase, dash: undefined },
    { d: valSaver[i], c: COLORS.valSaver, dash: undefined },
  ];
  return (
    <g transform={`translate(${tx},${ty})`}>
      {Y_TICKS.slice(1, -1).map((t) => (
        <line key={t} x1={0} x2={PW} y1={yScale(t)} y2={yScale(t)} stroke="#bdbdbd" strokeWidth={1.2} />
      ))}
      <g clipPath="url(#panelClip)">
        {series.map((s, k) => (
          <path
            key={k}
            d={lineGen(s.d) || ''}
            fill="none"
            stroke={s.c}
            strokeWidth={2.2}
            strokeDasharray={s.dash}
            strokeLinejoin="round"
          />
        ))}
      </g>
      <rect x={0} y={0} width={PW} height={PH} fill="none" stroke="#222" strokeWidth={1.2} />
      {Y_TICKS.map((t) => (
        <line key={t} x1={-3.5} x2={0} y1={yScale(t)} y2={yScale(t)} stroke="#222" strokeWidth={1.1} />
      ))}
      {X_TICKS.map((t) => (
        <line key={t} x1={xScale(t)} x2={xScale(t)} y1={PH} y2={PH + 3.5} stroke="#222" strokeWidth={1.1} />
      ))}
      {col === 0 &&
        Y_TICKS.map((t) => (
          <text
            key={t}
            x={-6}
            y={yScale(t)}
            dy="0.35em"
            textAnchor="end"
            fontFamily={FONT}
            fontSize={13}
            fill="#111"
          >
            {`${t}%`}
          </text>
        ))}
      {X_TICKS.map((t) => (
        <text key={t} x={xScale(t)} y={PH + 24} textAnchor="middle" fontFamily={FONT} fontSize={18} fill="#111">
          {t.toFixed(1)}
        </text>
      ))}
      <Title i={i} />
    </g>
  );
}

function Legend() {
  const x0 = 1450;
  const y0 = 2092;
  const rows = [2107.3, 2137.7, 2167.3, 2197.7];
  const styles = [
    { c: COLORS.trainBase, dash: '5,3' },
    { c: COLORS.trainSaver, dash: '5,3' },
    { c: COLORS.valBase, dash: undefined },
    { c: COLORS.valSaver, dash: undefined },
  ];
  return (
    <g>
      <rect x={x0} y={y0} width={182} height={126} rx={4} fill="#fff" stroke="#d4d4d4" strokeWidth={1.2} />
      {legendLabels.map((l, k) => (
        <g key={l}>
          <line
            x1={1457}
            x2={1499}
            y1={rows[k]}
            y2={rows[k]}
            stroke={styles[k].c}
            strokeWidth={2.2}
            strokeDasharray={styles[k].dash}
          />
          <text x={1515} y={rows[k]} dy="0.35em" fontFamily={FONT} fontSize={19} fill="#111">
            {l}
          </text>
        </g>
      ))}
    </g>
  );
}

export default function App() {
  return (
    <svg
      width={W}
      height={H}
      viewBox={`0 0 ${W} ${H}`}
      style={{ position: 'absolute', left: 0, top: 0, background: '#fff' }}
    >
      <defs>
        <clipPath id="panelClip">
          <rect x={0} y={-1.5} width={PW + 1.5} height={PH + 1.5} />
        </clipPath>
      </defs>
      <rect x={0} y={0} width={W} height={H} fill="#fff" />
      {numerals.map((_, i) => (
        <Panel key={i} i={i} />
      ))}
      <Legend />
      <text x={856} y={2288} textAnchor="middle" fontFamily={FONT} fontSize={27} fill="#111">
        Early Exit Ratio
      </text>
      <text
        transform={`translate(27,1100) rotate(-90)`}
        textAnchor="middle"
        fontFamily={FONT}
        fontSize={30}
        fill="#111"
      >
        Accuracy on Cat. I samples
      </text>
    </svg>
  );
}
